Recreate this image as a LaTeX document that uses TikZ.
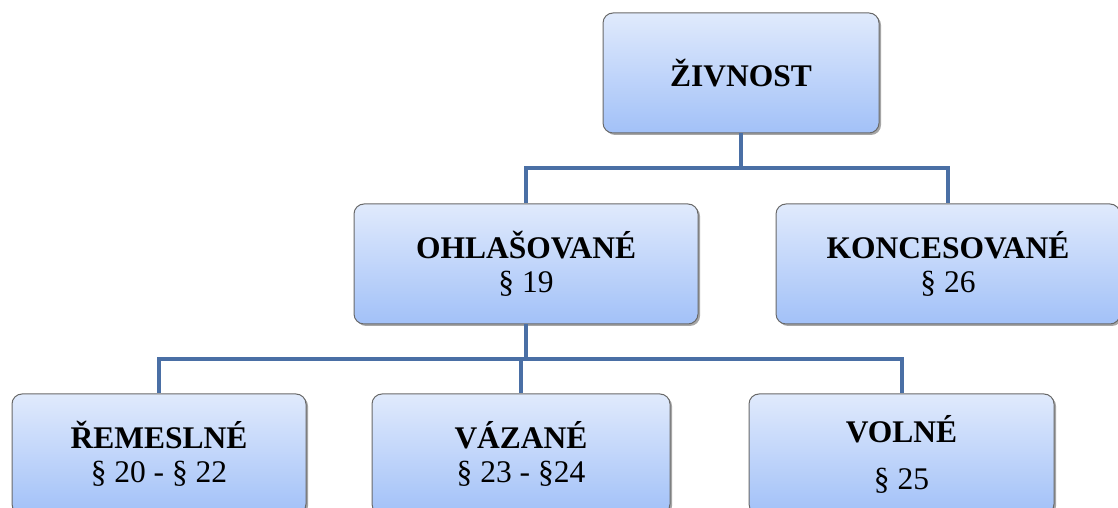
\documentclass[tikz,border=0pt]{standalone}
\usepackage{fontspec}
\setmainfont{Liberation Serif}
\usetikzlibrary{positioning,shadows}
\definecolor{boxtop}{RGB}{224,234,252}
\definecolor{boxbottom}{RGB}{162,193,248}
\definecolor{boxline}{RGB}{105,105,105}
\definecolor{linkblue}{RGB}{74,111,165}

\begin{document}
\begin{tikzpicture}[
    node distance = 70pt,
    box/.style = {draw=boxline, line width=1pt, rounded corners=10pt,
      top color=boxtop, bottom color=boxbottom,
      minimum height=120pt, align=center,
      font=\fontsize{31.5}{34}\selectfont,
      drop shadow={shadow xshift=2pt, shadow yshift=-2pt, opacity=0.35, fill=black}},
    link/.style = {draw=linkblue, line width=4pt}]
    \useasboundingbox (0,0) rectangle (1118pt,508pt);
    \clip (0,0) rectangle (1118pt,508pt);
    % NODES
    % top node
    \node[box, minimum width=276pt] (ziv) at (741pt,435pt) {\textbf{ŽIVNOST}};
    % second level
    \node[box, minimum width=344pt, below = 70pt of ziv, xshift=-215pt] (ohl) {\textbf{OHLAŠOVANÉ}\\§ 19};
    \node[box, minimum width=344pt, right = 77pt of ohl] (kon) {\textbf{KONCESOVANÉ}\\§ 26};
    % third level
    \node[box, minimum width=298pt, below = 69pt of ohl, xshift=-5pt] (vaz) {\textbf{VÁZANÉ}\\§ 23 - §24};
    \node[box, minimum width=294pt, left = 65pt of vaz] (rem) {\textbf{ŘEMESLNÉ}\\§ 20 - § 22};
    \node[box, minimum width=305pt, right = 78pt of vaz] (vol) {\textbf{VOLNÉ}\\[13pt]§ 25};

    % LINKS
    \coordinate[below = 35pt of ziv.south] (j1);
    \coordinate[below = 34.5pt of ohl.south] (j2);
    \draw[link] (ziv.south) -- (j1) -| (ohl.north);
    \draw[link] (j1) -| (kon.north);
    \draw[link] (ohl.south) -- (j2) -| (vaz.north);
    \draw[link] (j2) -| (rem.north);
    \draw[link] (j2) -| (vol.north);
\end{tikzpicture}
\end{document}
